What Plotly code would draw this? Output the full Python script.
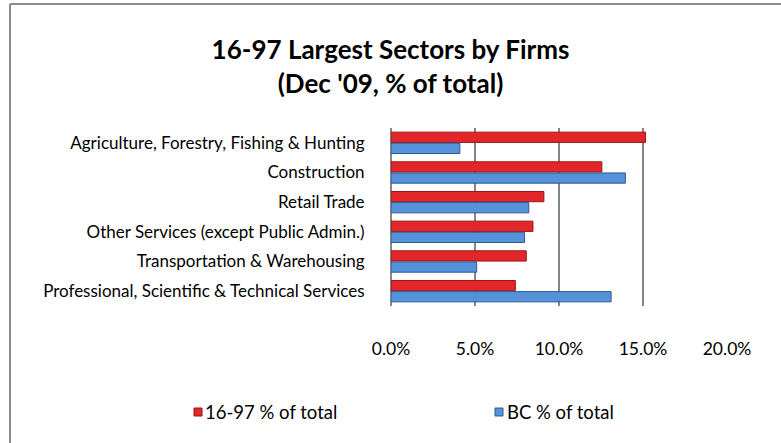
import plotly.graph_objects as go

# Sector categories, listed top to bottom as displayed
sectors = [
    "Agriculture, Forestry, Fishing & Hunting",
    "Construction",
    "Retail Trade",
    "Other Services (except Public Admin.)",
    "Transportation & Warehousing",
    "Professional, Scientific & Technical Services",
]

# Share of firms (%), Dec 2009
share_1697 = [15.15, 12.55, 9.1, 8.45, 8.05, 7.4]
share_bc = [4.1, 13.95, 8.2, 7.95, 5.1, 13.1]

series_names = ["16-97 % of total", "BC % of total"]
series_colors = ["#E3262A", "#5492DA"]
series_edges = ["#9A1414", "#2C5A95"]

tick_vals = [0, 5, 10, 15, 20]
tick_text = ["0.0%", "5.0%", "10.0%", "15.0%", "20.0%"]

W, H = 781, 443
L, R, T, B = 391, 54, 128, 137
pw, ph = W - L - R, H - T - B


def px_x(x):
    return (x - L) / pw


def px_y(y):
    return 1 - (y - T) / ph


FONT = "Lato, Calibri, sans-serif"

fig = go.Figure()
for vals, name, col, edge in zip([share_1697, share_bc], series_names,
                                 series_colors, series_edges):
    fig.add_trace(go.Bar(
        y=sectors, x=vals, orientation="h", name=name,
        marker=dict(color=col, line=dict(color=edge, width=1)),
    ))

# outer chart frame (left and top edges)
frame = dict(color="#8C8C8C", width=2)
fig.add_shape(type="line", xref="paper", yref="paper",
              x0=px_x(10), x1=px_x(10), y0=px_y(4), y1=px_y(H + 10), line=frame)
fig.add_shape(type="line", xref="paper", yref="paper",
              x0=px_x(10), x1=px_x(W + 10), y0=px_y(4), y1=px_y(4), line=frame)

# legend: swatch squares + labels
legend_pos = [(194, 203), (495, 505)]
for (sx, tx), name, col, edge in zip(legend_pos, series_names,
                                     series_colors, series_edges):
    fig.add_shape(type="rect", xref="paper", yref="paper",
                  x0=px_x(sx), x1=px_x(sx + 8), y0=px_y(408), y1=px_y(416),
                  fillcolor=col, line=dict(color=edge, width=1))
    fig.add_annotation(text=name, xref="paper", yref="paper",
                       x=px_x(tx), y=px_y(412), xanchor="left", yanchor="middle",
                       showarrow=False, font=dict(family=FONT, size=18.5, color="black"))

fig.update_layout(
    width=W, height=H,
    margin=dict(l=L, r=R, t=T, b=B),
    paper_bgcolor="white", plot_bgcolor="white",
    font=dict(family=FONT, size=17, color="black"),
    title=dict(
        text="16-97 Largest Sectors by Firms<br>(Dec '09, % of total)",
        x=0.5, xref="container", xanchor="center",
        y=1 - 59 / H, yref="container", yanchor="middle",
        font=dict(family=FONT, size=26, color="black", weight="bold"),
    ),
    barmode="group", bargap=0.25, bargroupgap=0.08,
    showlegend=False,
)
fig.update_xaxes(
    range=[0, 20], tickvals=tick_vals, ticktext=tick_text,
    showgrid=True, gridcolor="#868686", gridwidth=1.5,
    showline=False, zeroline=True, zerolinecolor="#868686", zerolinewidth=2,
    ticks="outside", ticklen=27, tickcolor="rgba(0,0,0,0)",
    tickfont=dict(size=17.5),
)
fig.update_yaxes(
    autorange="reversed", showgrid=False, ticks="outside", ticklen=22,
    tickcolor="rgba(0,0,0,0)", tickfont=dict(size=17),
)

fig.write_html("out.html")
